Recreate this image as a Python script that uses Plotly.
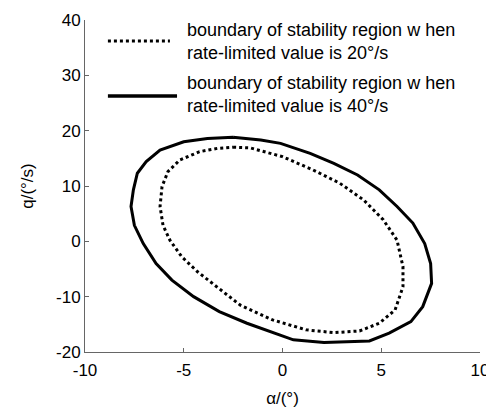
import plotly.graph_objects as go

# Outer boundary (rate-limited value 40°/s)
outer_alpha = [-2.5, -1.1, -0.1, 1.4, 2.6, 3.8, 4.9, 5.8, 6.6, 7.2, 7.5, 7.55, 7.1, 6.5, 5.4, 4.4,
               2.1, 0.55, -1.8, -3.2, -4.5, -5.6, -6.4, -7.05, -7.5, -7.67, -7.55, -7.35, -6.9,
               -6.2, -5.0, -3.8, -2.5]
outer_q = [18.8, 18.3, 17.7, 15.9, 14.1, 12.0, 9.3, 6.3, 3.3, -0.4, -4.0, -7.6, -11.8, -14.5, -16.6,
           -18.0, -18.3, -17.8, -14.8, -12.7, -10.0, -7.0, -4.0, -0.4, 2.9, 6.3, 9.3, 12.3, 14.4,
           16.5, 18.0, 18.6, 18.8]

# Inner boundary (rate-limited value 20°/s)
inner_alpha = [-2.5, -1.65, 0.0, 1.55, 2.9, 4.1, 5.1, 5.8, 6.1, 6.1, 5.7, 4.9, 3.9, 2.6, 1.2, -0.5,
               -2.15, -3.3, -4.3, -5.1, -5.7, -6.05, -6.2, -6.1, -5.8, -5.2, -4.2, -3.3, -2.5]
inner_q = [17.0, 16.9, 15.3, 12.9, 10.5, 7.5, 3.9, 0.2, -4.6, -8.2, -12.4, -14.8, -16.2, -16.5,
           -16.0, -14.2, -11.5, -8.2, -5.5, -2.8, 0.2, 2.9, 6.3, 9.9, 12.6, 14.7, 16.2, 16.8, 17.0]

legend_labels = ["boundary of stability region w hen<br>rate-limited value is 20°/s",
                 "boundary of stability region w hen<br>rate-limited value is 40°/s"]
x_ticks = [-10, -5, 0, 5, 10]
x_ticklabels = ["-10", "-5", "0", "5", "10"]
y_ticks = [-20, -10, 0, 10, 20, 30, 40]
y_ticklabels = ["-20", "-10", "0", "10", "20", "30", "40"]

FONT = "Arial, Liberation Sans, sans-serif"
AXC = "#666666"

fig = go.Figure()
fig.add_trace(go.Scatter(x=inner_alpha, y=inner_q, mode="lines",
                         line=dict(color="black", width=3, dash="dot"), showlegend=False))
fig.add_trace(go.Scatter(x=outer_alpha, y=outer_q, mode="lines",
                         line=dict(color="black", width=3), showlegend=False))

# manual legend
fig.add_shape(type="line", xref="paper", yref="paper", x0=0.058, x1=0.215, y0=0.937, y1=0.937,
              line=dict(color="black", width=3, dash="dot"))
fig.add_shape(type="line", xref="paper", yref="paper", x0=0.058, x1=0.233, y0=0.771, y1=0.771,
              line=dict(color="black", width=3.5))
for lab, yy in zip(legend_labels, [0.934, 0.777]):
    fig.add_annotation(text=lab, xref="paper", yref="paper", x=0.253, y=yy, xanchor="left",
                       yanchor="middle", showarrow=False, align="left",
                       font=dict(family=FONT, size=18, color="black"))

fig.update_layout(
    width=486, height=400,
    margin=dict(l=77, r=14, t=12, b=56),
    paper_bgcolor="white", plot_bgcolor="white",
    font=dict(family=FONT, size=15, color="black"),
)
fig.update_xaxes(range=[-10, 10], tickvals=x_ticks, ticktext=x_ticklabels, ticks="inside",
                 ticklen=4, tickcolor=AXC, automargin=False, ticklabelstandoff=3,
                 showline=True, linecolor=AXC, linewidth=1, showgrid=False, zeroline=False,
                 title=dict(text="α/(°)", font=dict(size=17), standoff=13),
                 tickfont=dict(size=17))
fig.update_yaxes(range=[-20, 40], tickvals=y_ticks, ticktext=y_ticklabels, ticks="inside",
                 ticklen=4, tickcolor=AXC, automargin=False,
                 showline=True, linecolor=AXC, linewidth=1, showgrid=False, zeroline=False,
                 title=dict(text="q/(°/s)", font=dict(size=17), standoff=18),
                 tickfont=dict(size=17))

fig.write_html("out.html")
